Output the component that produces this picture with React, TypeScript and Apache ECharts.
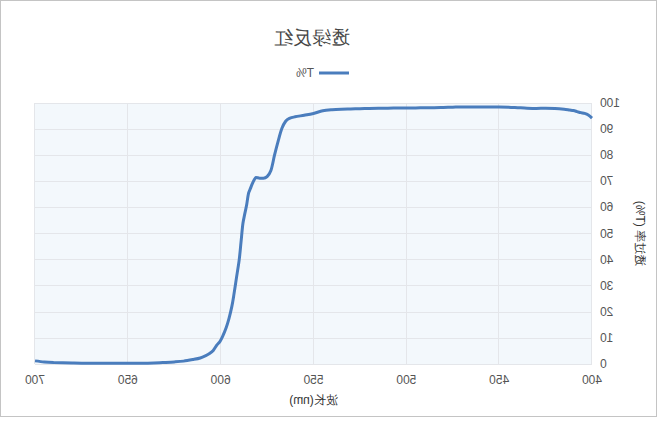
import React, { useEffect, useRef } from "react";
import * as echarts from "echarts";

const titleText = "透绿反红";
const seriesName = "T%";
const xAxisName = "波长(nm)";
const yAxisName = "透过率 (T%)";

const wavelengths = [
  400, 402, 404, 406, 408, 410, 412, 415, 420, 425, 430, 435, 440, 445, 450, 455, 460, 465, 470, 475,
  480, 485, 490, 495, 500, 510, 520, 525, 530, 535, 540, 545, 550, 555, 560, 563, 565, 567, 569, 571,
  573, 575, 577, 579, 581, 582, 583, 584, 585, 586, 587, 588, 589, 590, 591.5, 593, 594, 595.5, 597, 599,
  600.5, 602, 604, 606, 608, 611, 615, 620, 625, 630, 636, 645, 655, 665, 672, 680, 690, 695, 700,
];
const transmittance = [
  94.2, 95.4, 96.0, 96.3, 96.7, 97.1, 97.3, 97.6, 97.9, 98.0, 97.9, 98.0, 98.2, 98.4, 98.5, 98.5, 98.5, 98.5, 98.5, 98.4,
  98.3, 98.2, 98.2, 98.1, 98.1, 98.0, 97.9, 97.8, 97.7, 97.6, 97.4, 97.0, 96.0, 95.3, 94.7, 94.1, 93.0, 90.3, 85.5, 80.0,
  74.0, 71.8, 71.2, 71.2, 71.5, 70.5, 69.0, 67.2, 65.4, 61.0, 57.6, 53.9, 47.0, 40.0, 33.0, 26.0, 22.0, 17.5, 14.0, 10.5,
  8.5, 7.3, 5.2, 4.0, 3.2, 2.3, 1.7, 1.1, 0.8, 0.6, 0.4, 0.3, 0.25, 0.3, 0.3, 0.4, 0.6, 0.8, 1.2,
];

export default function App() {
  const ref = useRef<HTMLDivElement>(null);
  useEffect(() => {
    if (!ref.current) return;
    const chart = echarts.init(ref.current, undefined, { renderer: "svg" });
    const data = wavelengths.map((w, i) => [w, transmittance[i]]);
    chart.setOption({
      animation: false,
      backgroundColor: "#ffffff",
      title: {
        text: titleText,
        left: 339,
        textAlign: "center",
        top: 22,
        textStyle: { fontSize: 19, fontWeight: "normal", color: "#464646" },
      },
      legend: {
        data: [{ name: seriesName, icon: "rect" }],
        left: 302,
        top: 61,
        itemWidth: 30,
        itemHeight: 3,
        itemStyle: { color: "#4a7dbd" },
        textStyle: { fontSize: 12, color: "#555" },
      },
      grid: {
        left: 64,
        right: 34,
        top: 102,
        bottom: 52,
        show: true,
        backgroundColor: "#f3f8fc",
        borderWidth: 0,
      },
      xAxis: {
        type: "value",
        min: 400,
        max: 700,
        interval: 50,
        name: xAxisName,
        nameLocation: "middle",
        nameGap: 30,
        nameTextStyle: { fontSize: 12, color: "#333" },
        axisLine: { show: false },
        axisTick: { show: false },
        axisLabel: { color: "#555", fontSize: 12, margin: 10 },
        splitLine: { show: true, lineStyle: { color: "#e4e6ea", width: 1 } },
      },
      yAxis: {
        type: "value",
        min: 0,
        max: 100,
        interval: 10,
        name: yAxisName,
        nameLocation: "middle",
        nameGap: 42,
        nameTextStyle: { fontSize: 12, color: "#333" },
        axisLine: { show: false },
        axisTick: { show: false },
        axisLabel: { color: "#555", fontSize: 12, margin: 8 },
        splitLine: { show: true, lineStyle: { color: "#e4e6ea", width: 1 } },
      },
      series: [
        {
          name: seriesName,
          type: "line",
          data,
          smooth: 0.3,
          showSymbol: false,
          symbol: "none",
          lineStyle: { color: "#4a7dbd", width: 3 },
          itemStyle: { color: "#4a7dbd" },
        },
      ],
    });
    return () => chart.dispose();
  }, []);

  return (
    <div
      style={{
        position: "absolute",
        left: 0,
        top: 0,
        width: 657,
        height: 417,
        border: "1px solid #c4c4c4",
        boxSizing: "border-box",
        transform: "scaleX(-1)",
        background: "#fff",
      }}
    >
      <div ref={ref} style={{ width: 655, height: 415 }} />
    </div>
  );
}
